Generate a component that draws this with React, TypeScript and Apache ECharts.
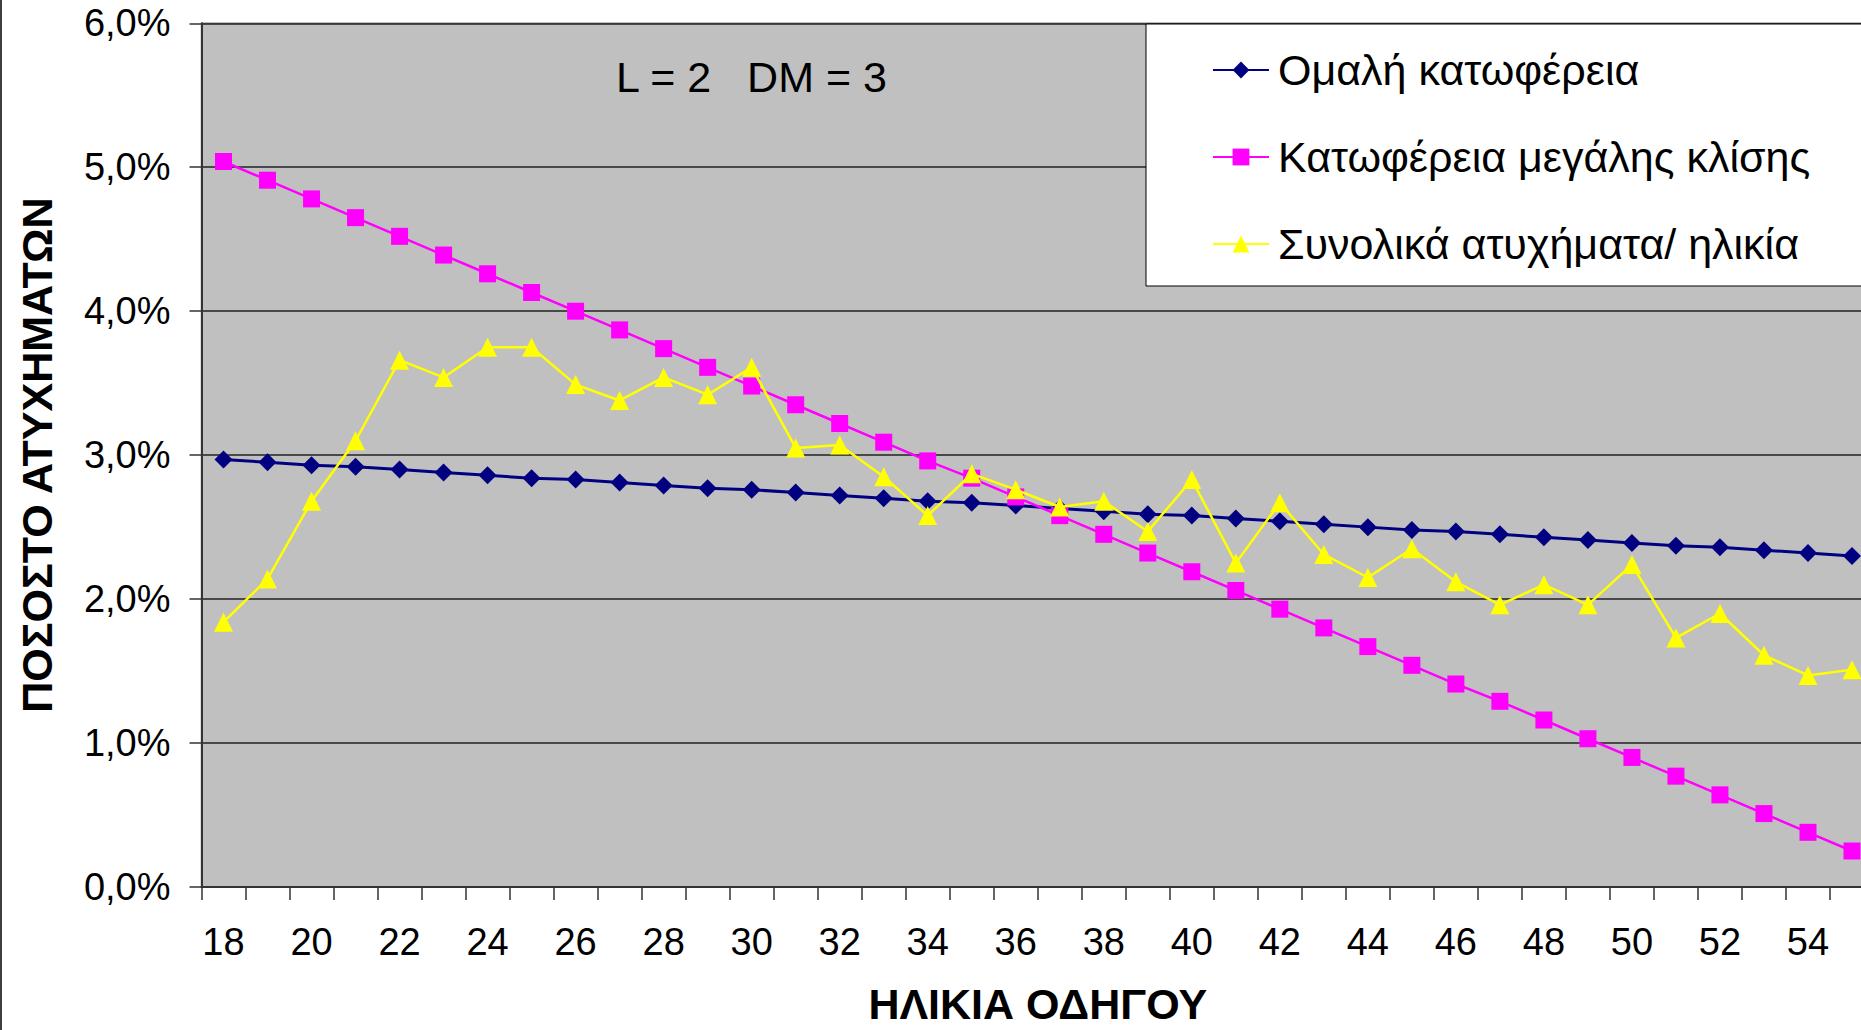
import React, { useEffect, useRef } from 'react';
import * as echarts from 'echarts';

const ages: string[] = [
  '18', '19', '20', '21', '22', '23', '24', '25', '26', '27', '28', '29', '30',
  '31', '32', '33', '34', '35', '36', '37', '38', '39', '40', '41', '42', '43',
  '44', '45', '46', '47', '48', '49', '50', '51', '52', '53', '54', '55',
];

const smoothSlope: number[] = [
  2.97, 2.95, 2.93, 2.92, 2.90, 2.88, 2.86, 2.84, 2.83, 2.81, 2.79, 2.77, 2.76,
  2.74, 2.72, 2.70, 2.68, 2.67, 2.65, 2.63, 2.61, 2.59, 2.58, 2.56, 2.54, 2.52,
  2.50, 2.48, 2.47, 2.45, 2.43, 2.41, 2.39, 2.37, 2.36, 2.34, 2.32, 2.30,
];

const steepSlope: number[] = [
  5.04, 4.91, 4.78, 4.65, 4.52, 4.39, 4.26, 4.13, 4.00, 3.87, 3.74, 3.61, 3.48,
  3.35, 3.22, 3.09, 2.96, 2.84, 2.71, 2.58, 2.45, 2.32, 2.19, 2.06, 1.93, 1.80,
  1.67, 1.54, 1.41, 1.29, 1.16, 1.03, 0.90, 0.77, 0.64, 0.51, 0.38, 0.25,
];

const totalByAge: number[] = [
  1.84, 2.14, 2.68, 3.10, 3.66, 3.54, 3.75, 3.75, 3.49, 3.38, 3.54, 3.42, 3.61,
  3.05, 3.07, 2.85, 2.58, 2.87, 2.76, 2.64, 2.68, 2.47, 2.83, 2.25, 2.67, 2.31,
  2.15, 2.35, 2.12, 1.96, 2.10, 1.96, 2.24, 1.73, 1.90, 1.61, 1.47, 1.51,
];

const seriesNames: string[] = [
  'Ομαλή κατωφέρεια',
  'Κατωφέρεια μεγάλης κλίσης',
  'Συνολικά ατυχήματα/ ηλικία',
];

const xAxisTitle = 'ΗΛΙΚΙΑ ΟΔΗΓΟΥ';
const yAxisTitle = 'ΠΟΣΟΣΤΟ ΑΤΥΧΗΜΑΤΩΝ';
const annotation = 'L = 2   DM = 3';

const FONT = '"Liberation Sans", Arial, sans-serif';

export default function App() {
  const ref = useRef<HTMLDivElement>(null);

  useEffect(() => {
    if (!ref.current) return;
    const chart = echarts.init(ref.current, null, { renderer: 'svg' });
    const option: any = {
      animation: false,
      backgroundColor: '#ffffff',
      textStyle: { fontFamily: FONT },
      grid: {
        left: 201.5,
        top: 23.3,
        bottom: 143,
        right: -13,
        show: true,
        backgroundColor: '#C0C0C0',
        borderColor: '#808080',
        borderWidth: 1.5,
        containLabel: false,
        outerBoundsMode: 'none',
      },
      legend: {
        show: true,
        orient: 'vertical',
        left: 1146,
        top: 24,
        data: seriesNames,
        backgroundColor: '#ffffff',
        borderColor: '#000000',
        borderWidth: 1,
        borderRadius: 0,
        padding: [24.5, 70, 20.5, 66],
        itemWidth: 56,
        itemHeight: 21,
        itemGap: 44,
        textStyle: {
          fontFamily: FONT,
          fontSize: 43,
          color: '#000000',
          padding: [0, 0, 0, 4],
        },
      },
      xAxis: {
        type: 'category',
        data: ages,
        boundaryGap: true,
        name: xAxisTitle,
        nameLocation: 'middle',
        nameGap: 99,
        nameTextStyle: {
          fontFamily: FONT,
          fontSize: 43,
          lineHeight: 36,
          fontWeight: 'bold',
          color: '#000000',
        },
        axisLine: { show: true, lineStyle: { color: '#333333', width: 2 } },
        axisTick: {
          show: true,
          interval: 0,
          length: 13,
          lineStyle: { color: '#333333', width: 1.5 },
        },
        axisLabel: {
          interval: 1,
          margin: 36,
          fontFamily: FONT,
          fontSize: 38,
          color: '#000000',
        },
        splitLine: { show: false },
      },
      yAxis: {
        type: 'value',
        min: 0,
        max: 6,
        interval: 1,
        name: yAxisTitle,
        nameLocation: 'middle',
        nameGap: 143.5,
        nameTextStyle: {
          fontFamily: FONT,
          fontSize: 43,
          fontWeight: 'bold',
          color: '#000000',
        },
        axisLine: { show: true, lineStyle: { color: '#333333', width: 2 } },
        axisTick: {
          show: true,
          length: 12,
          lineStyle: { color: '#333333', width: 1.5 },
        },
        axisLabel: {
          margin: 31,
          fontFamily: FONT,
          fontSize: 38,
          color: '#000000',
          formatter: (v: number) => v.toFixed(1).replace('.', ',') + '%',
        },
        splitLine: { show: true, lineStyle: { color: '#222222', width: 1.5 } },
      },
      series: [
        {
          name: seriesNames[0],
          type: 'line',
          data: smoothSlope,
          symbol: 'diamond',
          symbolSize: [18, 18],
          showAllSymbol: true,
          lineStyle: { color: '#000080', width: 3 },
          itemStyle: { color: '#000080' },
          z: 2,
        },
        {
          name: seriesNames[1],
          type: 'line',
          data: steepSlope,
          symbol: 'rect',
          symbolSize: [17, 17],
          showAllSymbol: true,
          lineStyle: { color: '#FF00FF', width: 2.5 },
          itemStyle: { color: '#FF00FF' },
          z: 3,
        },
        {
          name: seriesNames[2],
          type: 'line',
          data: totalByAge,
          symbol: 'triangle',
          symbolSize: [19, 19],
          showAllSymbol: true,
          lineStyle: { color: '#FFFF00', width: 2.5 },
          itemStyle: { color: '#FFFF00' },
          z: 4,
        },
      ],
      graphic: [
        {
          type: 'text',
          x: 616,
          y: 77,
          z: 10,
          style: {
            text: annotation,
            fontFamily: FONT,
            fontSize: 43,
            fill: '#000000',
            textVerticalAlign: 'middle',
            textAlign: 'left',
          },
        },
        {
          type: 'line',
          z: 10,
          shape: { x1: 1, y1: 0, x2: 1, y2: 1030 },
          style: { stroke: '#404040', lineWidth: 2 },
        },
      ],
    };
    chart.setOption(option);
    return () => {
      chart.dispose();
    };
  }, []);

  return (
    <div
      ref={ref}
      style={{
        position: 'fixed',
        left: 0,
        top: 0,
        width: '1861px',
        height: '1030px',
      }}
    />
  );
}
